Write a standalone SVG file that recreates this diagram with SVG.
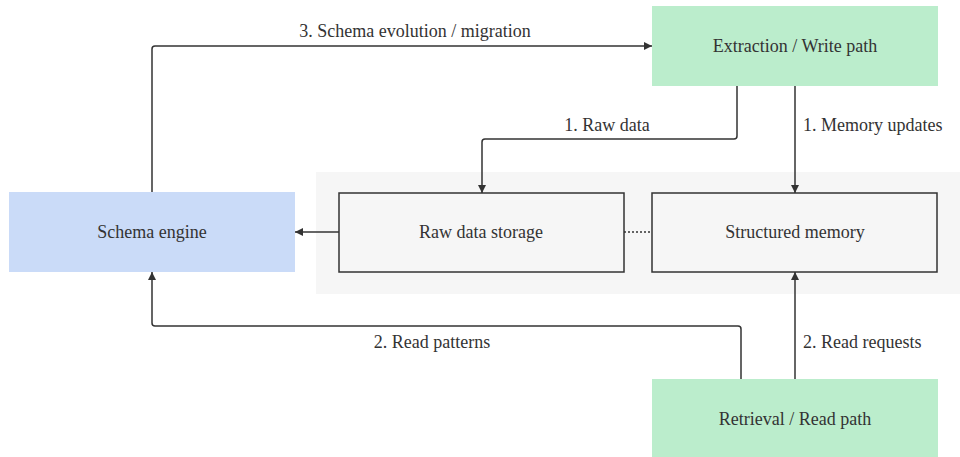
<svg xmlns="http://www.w3.org/2000/svg" width="960" height="457" viewBox="0 0 960 457" font-family="'Liberation Serif', 'DejaVu Serif', serif">
<style>
  text { font-family: 'Liberation Serif', 'DejaVu Serif', serif; font-size: 18px; fill: #333; }
  .lbl { text-anchor: middle; }
  .edge { fill: none; stroke: #333; stroke-width: 1.5; stroke-linejoin: round; }
  .box { fill: #f6f6f6; stroke: #333; stroke-width: 1.5; }
</style>
<defs>
  <marker id="arr" viewBox="0 0 10 10" refX="10" refY="5" markerWidth="8" markerHeight="8" markerUnits="userSpaceOnUse" orient="auto">
    <path d="M0,0 L10,5 L0,10 z" fill="#333"/>
  </marker>
</defs>
<rect id="store-group" x="316" y="172" width="644" height="122" fill="#f6f6f6"/>
<g id="extraction">
  <rect x="652" y="6" width="286" height="80" fill="#bbedcc"/>
  <text class="lbl" x="795" y="52">Extraction / Write path</text>
</g>
<g id="schema-engine">
  <rect x="9" y="192" width="286" height="80" fill="#cadbf8"/>
  <text class="lbl" x="152" y="238">Schema engine</text>
</g>
<g id="raw-storage">
  <rect class="box" x="339" y="193" width="285" height="79"/>
  <text class="lbl" x="481" y="238">Raw data storage</text>
</g>
<g id="structured-memory">
  <rect class="box" x="652" y="193" width="285" height="79"/>
  <text class="lbl" x="795" y="238">Structured memory</text>
</g>
<g id="retrieval">
  <rect x="652" y="379" width="286" height="80" fill="#bbedcc"/>
  <text class="lbl" x="795" y="425">Retrieval / Read path</text>
</g>
<g id="connectors">
  <path class="edge" d="M152,192 V49 Q152,46 155,46 H652" marker-end="url(#arr)"/>
  <text class="lbl" x="415" y="37">3. Schema evolution / migration</text>
  <path class="edge" d="M737,86 V136 Q737,139 734,139 H485 Q482,139 482,142 V193" marker-end="url(#arr)"/>
  <text class="lbl" x="607" y="131">1. Raw data</text>
  <path class="edge" d="M795,86 V193" marker-end="url(#arr)"/>
  <text x="803" y="131">1. Memory updates</text>
  <path class="edge" d="M339,232 H295" marker-end="url(#arr)"/>
  <path class="edge" d="M624,232 H652" stroke-dasharray="2,2"/>
  <path class="edge" d="M795,379 V272" marker-end="url(#arr)"/>
  <text x="803" y="348">2. Read requests</text>
  <path class="edge" d="M741,379 V329 Q741,326 738,326 H155 Q152,326 152,323 V272" marker-end="url(#arr)"/>
  <text class="lbl" x="432" y="348">2. Read patterns</text>
</g>
</svg>
